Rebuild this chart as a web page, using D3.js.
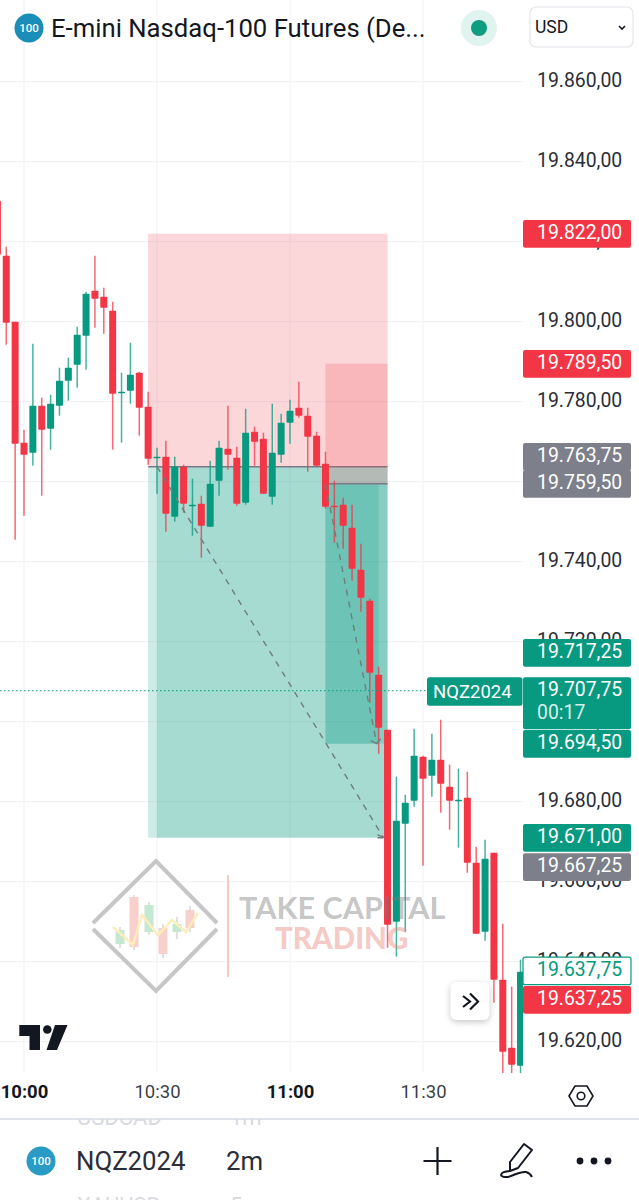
<!DOCTYPE html>
<html lang="en">
<head>
    <meta charset="utf-8">
    <title>NQZ2024 2m</title>
    <script src="https://cdn.jsdelivr.net/npm/d3@7"></script>
    <style>
        html, body { margin: 0; padding: 0; background: #fff; }
        svg { display: block; font-family: Roboto, sans-serif; }
    </style>
</head>
<body>
<div id="chart"></div>
<script type="text/javascript">
    // candles, 2 minutes each, first one at 09:54
    var firstBar = "09:54";
    var opens = [19830.25,19816.5,19800,19769.75,19767.25,19779,19773.25,19779,19785.25,19789.25,19796.5,19807.75,19806.25,19802.75,19782.25,19782.75,19787.25,19778.75,19766,19766.25,19751.25,19763.75,19754,19754.5,19748.75,19760.25,19768.25,19766,19754.75,19772.5,19770.75,19756.25,19766.75,19774.75,19778.5,19776.5,19771.5,19764.5,19754,19754.25,19748.5,19738,19730.25,19711.75,19698,19650,19674.5,19680.25,19691.25,19686.5,19690.5,19683.75,19680.25,19681,19664.75,19647.5,19667.25,19635.5,19618.5,19614];
    var highs = [19830.25,19818.75,19800,19773,19794.5,19781,19781.75,19788.5,19791,19798.75,19807.5,19816.5,19808.5,19805,19787.25,19794.75,19787.5,19782.5,19768.5,19770.25,19766.25,19764.25,19760.75,19756.5,19765.25,19770.25,19779,19768.75,19778.25,19773.75,19772.25,19779.5,19777,19780.5,19785,19778.5,19772.5,19767.5,19760.25,19756,19754.25,19744.5,19730.75,19713.75,19698,19686.25,19681.75,19698.25,19691.5,19697,19700.5,19689.25,19688.25,19687.5,19668.75,19670.5,19667.25,19649.5,19633.75,19640.5];
    var lows = [19816.75,19794.25,19745.5,19751.5,19764,19756.5,19768,19776.5,19780.25,19783.5,19788,19798.5,19797,19768,19769.75,19779.5,19771.5,19764.25,19757,19747.5,19750,19752.25,19746.5,19741,19748.75,19756.5,19763,19754,19754.25,19764,19757,19754.25,19764.75,19769.5,19776,19762.5,19763.75,19753.25,19744.75,19743.25,19735.25,19727.5,19704.75,19692,19643.5,19641.25,19647.5,19678.75,19664,19681.25,19677.25,19673,19668.5,19662.25,19647,19645.25,19629.75,19610,19610,19610];
    var closes = [19816.75,19799.75,19769.5,19766.75,19779,19773,19779.5,19785.25,19788.5,19796.75,19807,19805.75,19803.5,19782,19782.5,19786.75,19778.5,19765.75,19766.25,19752,19763.75,19754.5,19754.25,19749,19759.5,19768.5,19766.75,19754.5,19772.25,19770,19757,19767.25,19774.75,19777.75,19776.5,19771.25,19764,19753.75,19753.75,19749,19738.25,19731,19712.25,19698.5,19649.25,19675.25,19679.75,19691.5,19685.75,19690.5,19684.5,19680.25,19680.5,19664.75,19647,19665.75,19635.5,19617.5,19614.25,19637.5];

    var priceTicks = [19860,19840,19820,19800,19780,19760,19740,19720,19700,19680,19660,19640,19620];
    var timeTicks = ["10:00","10:30","11:00","11:30"];

    // price labels on the axis
    var labelValues = [19822,19789.5,19763.75,19759.5,19717.25,19694.5,19671,19667.25,19637.75,19637.25];
    var labelKinds = ["red","red","gray","gray","green","green","green","gray","outline","red"];
    var lastPrice = 19707.75;
    var countdown = "00:17";
    var symbol = "NQZ2024";

    // the two short position drawings, times in HH:MM
    var positionStart = ["10:28","11:08"];
    var positionEnd = ["11:22","11:22"];
    var positionStop = [19822,19789.5];
    var positionEntry = [19763.75,19759.5];
    var positionTarget = [19671,19694.5];
    var closedStart = ["10:30","11:08"];
    var closedEnd = ["11:22","11:20"];

    var w = 639;
    var h = 1200;
    var plotW = 523;
    var plotH = 1073;
    var bodyW = 7;
    var green = "#089981";
    var red = "#f23645";
    var gray = "#7d7f8b";
    var gridColor = "#f2f3f6";

    var parseTime = d3.timeParse("%H:%M");
    var formatTime = d3.timeFormat("%H:%M");
    var locale = d3.formatLocale({decimal: ",", thousands: ".", grouping: [3], currency: ["", ""]});
    var formatPrice = locale.format(",.2f");

    var xScale = d3.scaleTime()
        .domain([parseTime("10:00"), parseTime("11:30")])
        .range([24, 423]);

    var yScale = d3.scaleLinear()
        .domain([19860, 19620])
        .range([81.7, 1041.7]);

    var bars = opens.map(function (o, i) {
        return {
            time: d3.timeMinute.offset(parseTime(firstBar), i * 2),
            open: o, high: highs[i], low: lows[i], close: closes[i]
        };
    });

    var svg = d3.select("#chart").append("svg")
        .attr("width", w)
        .attr("height", h);

    svg.append("clipPath").attr("id", "plot")
        .append("rect").attr("width", plotW).attr("height", plotH);

    svg.append("clipPath").attr("id", "below")
        .append("rect").attr("y", 1119).attr("width", w).attr("height", 81);

    renderGrid();
    renderPositions();
    renderCandles();
    renderDashes();
    renderWatermark();
    renderAxes();
    renderLabels();
    renderHeader();
    renderFooter();

    function renderGrid() {
        var grid = svg.append("g").attr("stroke", gridColor).attr("stroke-width", 1.2);
        grid.selectAll(".h").data(priceTicks).enter().append("line")
            .attr("x1", 0).attr("x2", plotW)
            .attr("y1", function (d) { return yScale(d); })
            .attr("y2", function (d) { return yScale(d); });
        grid.selectAll(".v").data(timeTicks).enter().append("line")
            .attr("x1", function (d) { return xScale(parseTime(d)); })
            .attr("x2", function (d) { return xScale(parseTime(d)); })
            .attr("y1", 0).attr("y2", plotH);
    }

    function band(g, t0, t1, p0, p1, color) {
        g.append("rect")
            .attr("x", xScale(parseTime(t0)))
            .attr("width", xScale(parseTime(t1)) - xScale(parseTime(t0)))
            .attr("y", yScale(Math.max(p0, p1)))
            .attr("height", Math.abs(yScale(p0) - yScale(p1)))
            .attr("fill", color)
            .attr("fill-opacity", 0.2);
    }

    function renderPositions() {
        var g = svg.append("g");
        positionStop.forEach(function (stop, i) {
            band(g, positionStart[i], positionEnd[i], stop, positionEntry[i], red);
            band(g, positionStart[i], positionEnd[i], positionEntry[i], positionTarget[i], green);
            band(g, closedStart[i], closedEnd[i], positionEntry[i], positionTarget[i], green);
            g.append("line")
                .attr("x1", xScale(parseTime(positionStart[i])))
                .attr("x2", xScale(parseTime(positionEnd[i])))
                .attr("y1", yScale(positionEntry[i]))
                .attr("y2", yScale(positionEntry[i]))
                .attr("stroke", "#787b86")
                .attr("stroke-width", 1.5);
        });
    }

    function renderCandles() {
        var g = svg.append("g").attr("clip-path", "url(#plot)");
        var color = function (d) { return d.close >= d.open ? green : red; };

        g.selectAll(".wick").data(bars).enter().append("line")
            .attr("x1", function (d) { return xScale(d.time); })
            .attr("x2", function (d) { return xScale(d.time); })
            .attr("y1", function (d) { return yScale(d.high); })
            .attr("y2", function (d) { return yScale(d.low); })
            .attr("stroke", color)
            .attr("stroke-opacity", 0.75)
            .attr("stroke-width", 1.5);

        g.selectAll(".body").data(bars).enter().append("rect")
            .attr("x", function (d) { return xScale(d.time) - bodyW / 2; })
            .attr("width", bodyW)
            .attr("y", function (d) { return yScale(Math.max(d.open, d.close)); })
            .attr("height", function (d) {
                return Math.max(1.6, Math.abs(yScale(d.open) - yScale(d.close)));
            })
            .attr("rx", 0.8)
            .attr("fill", color);
    }

    function renderDashes() {
        var g = svg.append("g").attr("stroke", "#6f7d7b").attr("fill", "none").attr("stroke-width", 1.4);
        closedStart.forEach(function (t, i) {
            var x0 = xScale(parseTime(t));
            var x1 = xScale(parseTime(closedEnd[i])) - (i === 0 ? 4 : 2);
            var y0 = yScale(positionEntry[i]);
            var y1 = yScale(positionTarget[i]);
            g.append("line")
                .attr("x1", x0).attr("y1", y0).attr("x2", x1).attr("y2", y1)
                .attr("stroke-dasharray", "6 6");
            g.append("path")
                .attr("d", "M" + (x1 - 6) + "," + (y1 - 3) + "L" + x1 + "," + y1 + "L" + (x1 + (i === 0 ? -6 : 4)) + "," + (y1 + (i === 0 ? 0 : -5)));
        });
    }

    function renderWatermark() {
        var g = svg.append("g");
        g.append("path")
            .attr("d", "M93,923L156,861L217,923M93,929L156,991L217,929")
            .attr("fill", "none").attr("stroke", "#c6c6c6").attr("stroke-width", 4);

        // logo candles: centre, wick top, body top, body bottom, wick bottom
        var logo = [
            [120, 927, 930, 944, 948, "#c4e8d2"],
            [134, 895, 897, 947, 950, "#f7d0cc"],
            [149, 902, 905, 932, 935, "#c4e8d2"],
            [163, 924, 928, 954, 958, "#f7d0cc"],
            [177, 917, 924, 932, 939, "#c4e8d2"],
            [190, 906, 910, 928, 932, "#f7d0cc"]
        ];
        logo.forEach(function (c) {
            g.append("line").attr("x1", c[0]).attr("x2", c[0]).attr("y1", c[1]).attr("y2", c[4])
                .attr("stroke", "#bfbfbf").attr("stroke-width", 1);
            g.append("rect").attr("x", c[0] - 4.5).attr("width", 9).attr("y", c[2]).attr("height", c[3] - c[2])
                .attr("fill", c[5]);
        });
        g.append("polyline")
            .attr("points", "113,927 133,945 142,915 158,935 172,920 186,932 198,913")
            .attr("fill", "none").attr("stroke", "#fbeebb").attr("stroke-width", 2.5);

        g.append("line").attr("x1", 228).attr("x2", 228).attr("y1", 875).attr("y2", 977)
            .attr("stroke", "#f5c9c2").attr("stroke-width", 2);

        g.append("text").attr("x", 239).attr("y", 919)
            .attr("font-family", "Lato").attr("font-size", 30.6).attr("font-weight", 700)
            .attr("fill", "#777").attr("fill-opacity", 0.42)
            .text("TAKE CAPITAL");
        g.append("text").attr("x", 275).attr("y", 949)
            .attr("font-family", "Lato").attr("font-size", 29.5).attr("font-weight", 900)
            .attr("fill", "#e8897d").attr("fill-opacity", 0.45)
            .text("TRADING");

        // tradingview mark
        svg.append("path")
            .attr("d", "M19.3,1025H40V1050H29.5V1036H19.3Z M55,1025H67.5L57,1050H46.5Z")
            .attr("fill", "#131722");
        svg.append("circle").attr("cx", 47.3).attr("cy", 1029.5).attr("r", 4.3).attr("fill", "#131722");
    }

    function renderAxes() {
        var yAxis = d3.axisRight(yScale)
            .tickValues(priceTicks)
            .tickSize(0)
            .tickPadding(0)
            .tickFormat(formatPrice);

        var yG = svg.append("g")
            .attr("transform", "translate(537,0)")
            .call(yAxis);
        yG.select(".domain").remove();
        yG.selectAll("text")
            .attr("font-size", 19.4)
            .attr("font-family", "Roboto")
            .attr("fill", "#2a2e39")
            .attr("dy", "0.24em");

        svg.append("rect").attr("y", plotH).attr("width", w).attr("height", 45).attr("fill", "#fff");

        var xAxis = d3.axisBottom(xScale)
            .tickValues(timeTicks.map(parseTime))
            .tickSize(0)
            .tickPadding(0)
            .tickFormat(formatTime);

        var xG = svg.append("g")
            .attr("transform", "translate(0,1085)")
            .call(xAxis);
        xG.select(".domain").remove();
        xG.selectAll("text")
            .attr("font-size", 18.5)
            .attr("font-family", "Roboto")
            .attr("fill", "#131722")
            .attr("font-weight", function (d) { return d.getMinutes() === 0 ? 700 : 400; })
            .attr("fill-opacity", function (d) { return d.getMinutes() === 0 ? 1 : 0.85; });

        // settings hexagon
        svg.append("path")
            .attr("d", "M569,1096L575,1086H587L593,1096L587,1106H575Z")
            .attr("fill", "none").attr("stroke", "#131722").attr("stroke-width", 1.6);
        svg.append("circle").attr("cx", 581).attr("cy", 1096).attr("r", 3.8)
            .attr("fill", "none").attr("stroke", "#131722").attr("stroke-width", 1.6);
    }

    function labelBox(cy, kind) {
        var fill = {red: red, green: green, gray: gray, outline: "#fff"}[kind];
        svg.append("rect")
            .attr("x", 523).attr("y", cy - 13.6)
            .attr("width", 108).attr("height", 27.6).attr("rx", 2)
            .attr("fill", fill)
            .attr("stroke", kind === "outline" ? green : "none")
            .attr("stroke-width", 1.2);
    }

    function labelText(cy, txt, color) {
        svg.append("text")
            .attr("x", 537).attr("y", cy - 1.3)
            .attr("dy", "0.35em")
            .attr("font-size", 19.4)
            .attr("fill", color)
            .text(txt);
    }

    function renderLabels() {
        // labels that collide on the axis are pushed apart
        var nudge = {"19763.75": -10, "19667.25": 14.2, "19637.25": 27};
        labelValues.forEach(function (v, i) {
            var cy = yScale(v) + (nudge[v] || 0);
            labelBox(cy, labelKinds[i]);
            labelText(cy, formatPrice(v), labelKinds[i] === "outline" ? green : "#fff");
        });

        var y = yScale(lastPrice);
        svg.append("line")
            .attr("x1", 0).attr("x2", 428)
            .attr("y1", y).attr("y2", y)
            .attr("stroke", green).attr("stroke-width", 1)
            .attr("stroke-dasharray", "1.5 2.5");

        svg.append("rect").attr("x", 427).attr("y", y - 13.5).attr("width", 95.5).attr("height", 28.5).attr("rx", 2.5).attr("fill", green);
        svg.append("text").attr("x", 433).attr("y", y + 0.5).attr("dy", "0.35em")
            .attr("font-size", 18.5).attr("fill", "#fff").text(symbol);

        svg.append("rect").attr("x", 523).attr("y", y - 13.5).attr("width", 108).attr("height", 52).attr("rx", 2).attr("fill", green);
        labelText(y, formatPrice(lastPrice), "#fff");
        svg.append("text").attr("x", 537).attr("y", y + 21.5).attr("dy", "0.35em")
            .attr("font-size", 19.4).attr("fill", "#d5f0ea").text(countdown);

        // scroll to latest button
        svg.append("rect").attr("x", 450.5).attr("y", 982).attr("width", 39).attr("height", 38).attr("rx", 6)
            .attr("fill", "#fff").style("filter", "drop-shadow(0 2px 3px rgba(0,0,0,.22))");
        svg.append("path")
            .attr("d", "M463,996L470,1001.5L463,1007M470,993.5L478,1001.5L470,1009.5")
            .attr("fill", "none").attr("stroke", "#131722").attr("stroke-width", 2.2);
    }

    function badge(cx, cy, r, color) {
        svg.append("circle").attr("cx", cx).attr("cy", cy).attr("r", r).attr("fill", color);
        svg.append("text").attr("x", cx).attr("y", cy).attr("dy", "0.35em")
            .attr("text-anchor", "middle").attr("font-size", 11.5).attr("font-weight", 500)
            .attr("fill", "#fff").text("100");
    }

    function renderHeader() {
        badge(29, 28, 14.5, "#1a8db8");
        svg.append("text").attr("x", 51).attr("y", 28).attr("dy", "0.35em")
            .attr("font-size", 25.7).attr("fill", "#131722")
            .text("E-mini Nasdaq-100 Futures (De...");

        svg.append("circle").attr("cx", 479).attr("cy", 28).attr("r", 18).attr("fill", "#e0f3ef");
        svg.append("circle").attr("cx", 479).attr("cy", 28).attr("r", 8).attr("fill", "#0f9d80");

        svg.append("rect").attr("x", 530).attr("y", 7).attr("width", 103).attr("height", 40).attr("rx", 6)
            .attr("fill", "#fff").attr("stroke", "#e4e6ec").attr("stroke-width", 1.2);
        svg.append("text").attr("x", 535).attr("y", 27).attr("dy", "0.35em")
            .attr("font-size", 17.5).attr("fill", "#131722").text("USD");
        svg.append("path").attr("d", "M619,26L622,29L625,26")
            .attr("fill", "none").attr("stroke", "#131722").attr("stroke-width", 1.6);
    }

    function renderFooter() {
        svg.append("rect").attr("y", 1118).attr("width", w).attr("height", 2).attr("fill", "#e0e3eb");

        var ghost = svg.append("g").attr("clip-path", "url(#below)")
            .attr("font-size", 22).attr("fill", "#d9dadf");
        ghost.append("text").attr("x", 77).attr("y", 1125).text("USDCAD");
        ghost.append("text").attr("x", 230).attr("y", 1125).text("1m");
        ghost.append("text").attr("x", 77).attr("y", 1213).text("XAUUSD");
        ghost.append("text").attr("x", 230).attr("y", 1213).text("5m");

        badge(41, 1161, 14.5, "#2a9bc4");
        svg.append("text").attr("x", 76).attr("y", 1161).attr("dy", "0.35em")
            .attr("font-size", 25.8).attr("fill", "#2a2e39").text(symbol);
        svg.append("text").attr("x", 226).attr("y", 1161).attr("dy", "0.35em")
            .attr("font-size", 25.8).attr("fill", "#2a2e39").text("2m");

        svg.append("path").attr("d", "M423.5,1161H451.5M437.5,1147V1175")
            .attr("stroke", "#131722").attr("stroke-width", 2.2);

        svg.append("path")
            .attr("d", "M524,1144L532,1150L518,1168L510,1171L510,1162Z M510,1171C498,1172 499,1178 508,1177C515,1175 520,1171 526,1172C530,1173 531,1175 532,1177")
            .attr("fill", "none").attr("stroke", "#131722").attr("stroke-width", 2).attr("stroke-linejoin", "round");

        svg.selectAll(".dot").data([580, 594, 608]).enter().append("circle")
            .attr("cx", function (d) { return d; })
            .attr("cy", 1161).attr("r", 3.4).attr("fill", "#131722");
    }
</script>
</body>
</html>
